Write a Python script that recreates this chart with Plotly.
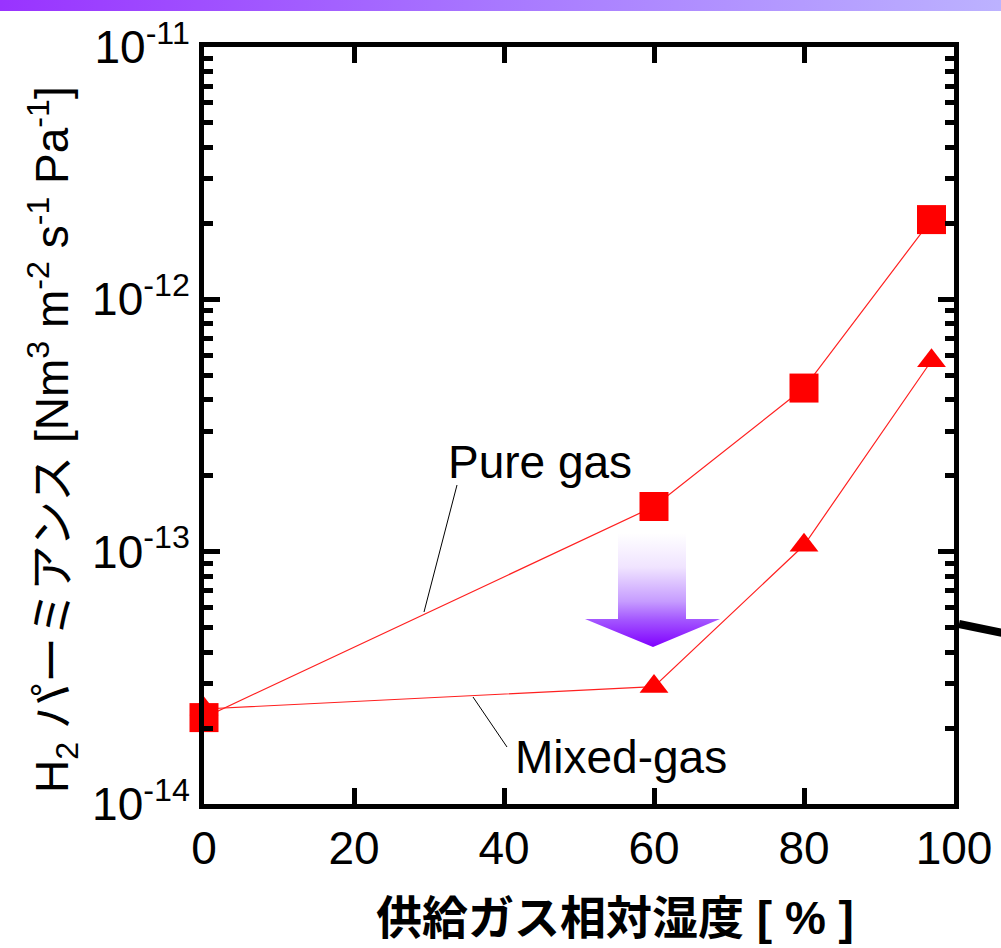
import base64
import numpy as np
import plotly.graph_objects as go

# feed-gas relative humidity [%]
rh_pure = [0, 60, 80, 97]
rh_mixed = [0, 60, 80, 97]
# H2 permeance [Nm3 m-2 s-1 Pa-1]
perm_pure = [2.20e-14, 1.51e-13, 4.45e-13, 2.07e-12]
perm_mixed = [2.38e-14, 2.92e-14, 1.06e-13, 5.71e-13]

x_ticks = [0, 20, 40, 60, 80, 100]
y_ticks = [1e-14, 1e-13, 1e-12, 1e-11]
y_ticktext = ["10<sup>-14</sup>", "10<sup>-13</sup>", "10<sup>-12</sup>", "10<sup>-11</sup>"]
y_minor = [m * 10.0 ** e for e in (-14, -13, -12) for m in range(2, 10)]

W, H = 1001, 948
FONT = "Arial, 'Liberation Sans', 'Noto Sans CJK JP', sans-serif"


def px(x):
    return x / W


def py(y):
    return 1 - y / H


def svg_uri(svg):
    return "data:image/svg+xml;base64," + base64.b64encode(svg.encode()).decode()


# top banner gradient
bar_svg = ('<svg xmlns="http://www.w3.org/2000/svg" width="1001" height="11" preserveAspectRatio="none">'
           '<defs><linearGradient id="g" x1="0" y1="0" x2="1" y2="0">'
           '<stop offset="0" stop-color="#9933ff"/><stop offset="0.5" stop-color="#a878ff"/>'
           '<stop offset="1" stop-color="#bcb2ff"/></linearGradient></defs>'
           '<rect width="1001" height="11" fill="url(#g)"/></svg>')

# down arrow (white -> purple)
arrow_svg = ('<svg xmlns="http://www.w3.org/2000/svg" width="135" height="114" viewBox="0 0 135 114" preserveAspectRatio="none">'
             '<defs><linearGradient id="a" x1="0" y1="0" x2="0" y2="1">'
             '<stop offset="0" stop-color="#ffffff"/><stop offset="0.3" stop-color="#f0e4ff"/>'
             '<stop offset="0.6" stop-color="#c69cff"/><stop offset="0.76" stop-color="#a457ff"/>'
             '<stop offset="1" stop-color="#8000ff"/></linearGradient></defs>'
             '<path d="M33,0 H101 V86 H135 L68,114 L0,86 H33 Z" fill="url(#a)"/></svg>')

fig = go.Figure()
fig.add_trace(go.Scatter(
    x=rh_mixed, y=perm_mixed, mode="lines+markers", name="Mixed-gas", cliponaxis=False,
    line=dict(color="#ff2020", width=1.2),
    marker=dict(symbol="triangle-up", size=25, color="#ff0000", line=dict(width=0))))
fig.add_trace(go.Scatter(
    x=rh_pure, y=perm_pure, mode="lines+markers", name="Pure gas", cliponaxis=False,
    line=dict(color="#ff2020", width=1.2),
    marker=dict(symbol="square", size=29, color="#ff0000", line=dict(width=0))))

axis_common = dict(showline=True, linecolor="black", linewidth=5, mirror="allticks",
                   ticks="inside", tickcolor="black", tickwidth=5, showgrid=False,
                   zeroline=False, automargin=False,
                   tickfont=dict(family=FONT, size=46, color="black"))

fig.update_xaxes(range=[0, 100], tickvals=x_ticks, ticklen=16,
                 domain=[px(204), px(954)], **axis_common)
fig.update_yaxes(type="log", range=[-14, -11], tickvals=y_ticks, ticktext=y_ticktext,
                 ticklen=16, domain=[py(804), py(47)],
                 minor=dict(ticks="inside", tickvals=y_minor, ticklen=9, tickwidth=5,
                            tickcolor="black", showgrid=False),
                 **axis_common)

ann_font = dict(family=FONT, size=46, color="black")
fig.update_layout(
    template="none",
    width=W, height=H, margin=dict(l=0, r=0, t=0, b=0, autoexpand=False),
    paper_bgcolor="white", plot_bgcolor="white", showlegend=False,
    font=ann_font,
    images=[
        dict(source=svg_uri(bar_svg), xref="paper", yref="paper", x=0, y=1,
             sizex=1, sizey=11 / H, sizing="stretch", xanchor="left", yanchor="top", layer="above"),
        dict(source=svg_uri(arrow_svg), xref="paper", yref="paper", x=px(585), y=py(533),
             sizex=135 / W, sizey=114 / H, sizing="stretch", xanchor="left", yanchor="top", layer="above"),
    ],
    shapes=[
        dict(type="line", xref="paper", yref="paper", x0=px(457), y0=py(485), x1=px(424), y1=py(612),
             line=dict(color="black", width=1)),
        dict(type="line", xref="paper", yref="paper", x0=px(473), y0=py(697), x1=px(507), y1=py(747),
             line=dict(color="black", width=1)),
        dict(type="line", xref="paper", yref="paper", x0=px(959), y0=py(624), x1=px(1003), y1=py(633),
             line=dict(color="black", width=8)),
    ],
    annotations=[
        dict(text="Pure gas", xref="paper", yref="paper", x=px(446), y=py(462),
             xanchor="left", yanchor="middle", showarrow=False, font=ann_font),
        dict(text="Mixed-gas", xref="paper", yref="paper", x=px(513), y=py(757),
             xanchor="left", yanchor="middle", showarrow=False, font=ann_font),
        dict(text="H<sub>2</sub> パーミアンス [Nm<sup>3</sup> m<sup>-2</sup> s<sup>-1</sup> Pa<sup>-1</sup>]",
             xref="paper", yref="paper", x=px(52), y=py(440), textangle=-90,
             xanchor="center", yanchor="middle", showarrow=False, font=ann_font),
        dict(text="<b>供給ガス相対湿度 [ % ]</b>", xref="paper", yref="paper", x=px(615), y=py(918),
             xanchor="center", yanchor="middle", showarrow=False,
             font=dict(family=FONT, size=46, color="black")),
    ],
)

# drop the page's default body margin so the figure sits at the window's corner
fig.write_html("out.html", config={"displayModeBar": False},
               post_script="document.body.style.margin='0';")
